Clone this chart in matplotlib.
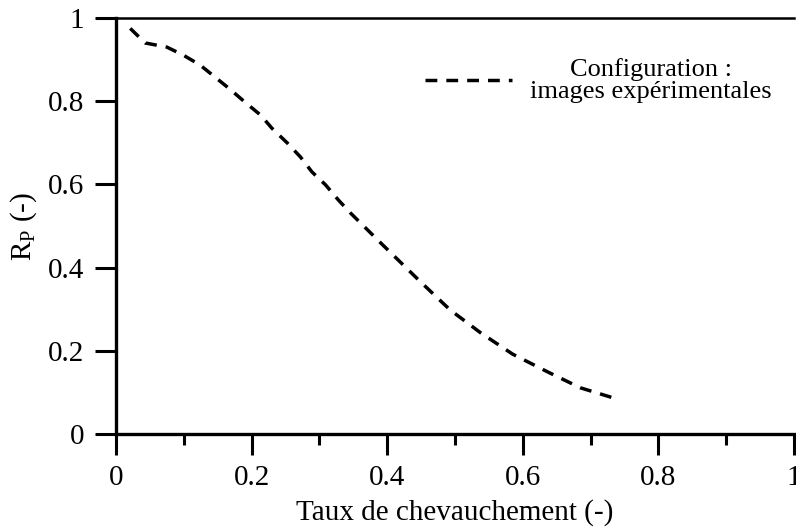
import matplotlib.pyplot as plt
from matplotlib.ticker import MultipleLocator

# Donnees
taux = [0.021, 0.043, 0.075, 0.099, 0.124, 0.146, 0.168, 0.19, 0.213, 0.23,
        0.253, 0.272, 0.289, 0.309, 0.328, 0.346, 0.39, 0.449, 0.493, 0.538,
        0.585, 0.637, 0.685, 0.715, 0.739]
rp = [0.975, 0.94, 0.93, 0.911, 0.887, 0.858, 0.829, 0.798, 0.767, 0.735,
      0.699, 0.666, 0.63, 0.599, 0.5625, 0.531, 0.46, 0.366, 0.298, 0.243,
      0.192, 0.149, 0.111, 0.096, 0.084]
ticks = [0, 0.2, 0.4, 0.6, 0.8, 1]
tick_labels = ['0', '0.2', '0.4', '0.6', '0.8', '1']

plt.rcParams['font.family'] = ['Liberation Serif', 'DejaVu Serif']
plt.rcParams['mathtext.fontset'] = 'custom'
plt.rcParams['mathtext.rm'] = 'Liberation Serif'

fig = plt.figure(figsize=(7.96, 5.31), dpi=100)
ax = fig.add_axes([116/796, 1 - 434/531, 678/796, 416/531])

ax.plot(taux, rp, color='black', linestyle=(0, (3.4, 2.6)), linewidth=2.5,
        label='Configuration :\nimages expérimentales')

ax.set_xlim(0, 1)
ax.set_ylim(0, 1)
ax.set_xticks(ticks)
ax.set_xticklabels(tick_labels)
ax.xaxis.set_minor_locator(MultipleLocator(0.1))
ax.set_yticks(ticks)
ax.set_yticklabels(tick_labels)

ax.tick_params(which='major', direction='out', length=15, width=2.2, labelsize=21, pad=8)
ax.tick_params(which='minor', direction='out', length=8, width=2.2)
ax.tick_params(axis='x', pad=7)
ax.spines['right'].set_visible(False)
for s in ['left', 'bottom']:
    ax.spines[s].set_linewidth(2.4)
ax.spines['top'].set_linewidth(1.8)

ax.set_xlabel('Taux de chevauchement (-)', fontsize=21, labelpad=6)
ax.set_ylabel(r'R$_\mathrm{P}$ (-)', fontsize=21, labelpad=6)

leg = ax.legend(loc='upper right', bbox_to_anchor=(785/796, 1 - 45/531),
                bbox_transform=fig.transFigure, frameon=False, borderpad=0,
                fontsize=19, handlelength=3.3, handletextpad=0.7)
for t in leg.get_texts():
    t.set_multialignment('center')
    t.set_linespacing(1.0)

fig.savefig('out.png', dpi=100)
